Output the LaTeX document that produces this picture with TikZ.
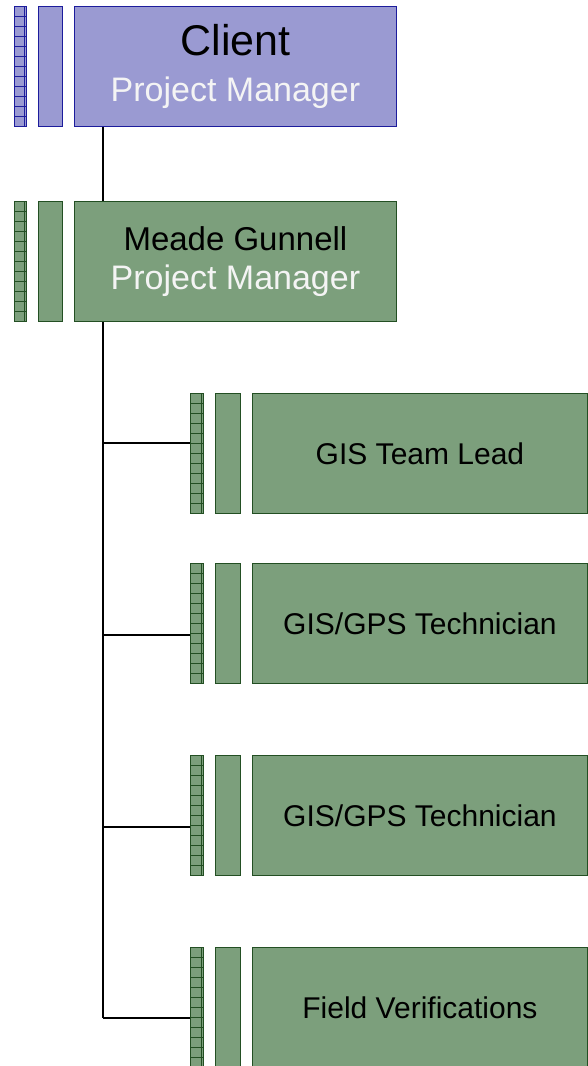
\documentclass[tikz,border=0pt]{standalone}
\usepackage{fontspec}
\setmainfont{Liberation Sans}
\usetikzlibrary{positioning}
\definecolor{clientfill}{HTML}{9A9AD2}
\definecolor{clientline}{HTML}{1C1C9C}
\definecolor{teamfill}{HTML}{7C9F7C}
\definecolor{teamline}{HTML}{234F23}
\definecolor{softwhite}{HTML}{F4F4F4}

\begin{document}
\begin{tikzpicture}[x=1pt,y=-1pt,
    card/.style={rectangle, draw=#1line, fill=#1fill, line width=0.9pt, inner sep=0pt, minimum height=120pt},
    mainbox/.style={card=#1, minimum width=322pt, align=center},
    childbox/.style={card=#1, minimum width=335pt, align=center, font=\fontsize{30}{34}\selectfont},
    bar/.style={card=#1, minimum width=24pt},
    gridbar/.style={card=#1, minimum width=12pt, path picture={
        \foreach \k in {1,...,11}
          \draw[#1line, line width=0.8pt] ([yshift=-\k*10pt]path picture bounding box.north west) -- ([yshift=-\k*10pt]path picture bounding box.north east);
        \draw[#1line, line width=0.8pt] ([xshift=-2.5pt]path picture bounding box.north east) -- ([xshift=-2.5pt]path picture bounding box.south east);}},
    link/.style={line width=1.6pt, black}]
    \useasboundingbox (0,0) rectangle (587,1066);

    % client and project manager
    \node[mainbox=client, anchor=north west, font=\fontsize{34}{46}\selectfont] (client) at (74,6)
      {{\fontsize{43}{46}\selectfont Client}\\{\color{softwhite}Project Manager}};
    \node[bar=client, left=11pt of client] (clientbar) {};
    \node[gridbar=client, left=11pt of clientbar] (clientgrid) {};

    \node[mainbox=team, anchor=north west, font=\fontsize{33}{39}\selectfont] (meade) at (74,201)
      {Meade Gunnell\\{\color{softwhite}\fontsize{34}{39}\selectfont Project Manager}};
    \node[bar=team, left=11pt of meade] (meadebar) {};
    \node[gridbar=team, left=11pt of meadebar] (meadegrid) {};

    % team
    \node[childbox=team, anchor=north west] (lead) at (252,393) {GIS Team Lead};
    \node[childbox=team, anchor=north west] (techA) at (252,563) {GIS/GPS Technician};
    \node[childbox=team, anchor=north west] (techB) at (252,755) {GIS/GPS Technician};
    \node[childbox=team, anchor=north west] (field) at (252,947) {Field Verifications};
    \foreach \n in {lead,techA,techB,field} {
      \node[bar=team, minimum width=25pt, left=11pt of \n] (\n bar) {};
      \node[gridbar=team, minimum width=13pt, left=11pt of \n bar] (\n grid) {};
    }

    \coordinate (trunk) at (103,1018);
    \coordinate (tapA) at (190,443);
    \coordinate (tapB) at (190,635);
    \coordinate (tapC) at (190,827);
    \coordinate (tapD) at (190,1018);

    \draw[link] (client.south -| trunk) -- (meade.north -| trunk);
    \draw[link] (meade.south -| trunk) -- (trunk);
    \foreach \t in {tapA,tapB,tapC,tapD}
      \draw[link] (\t -| trunk) -- (\t);
\end{tikzpicture}
\end{document}
